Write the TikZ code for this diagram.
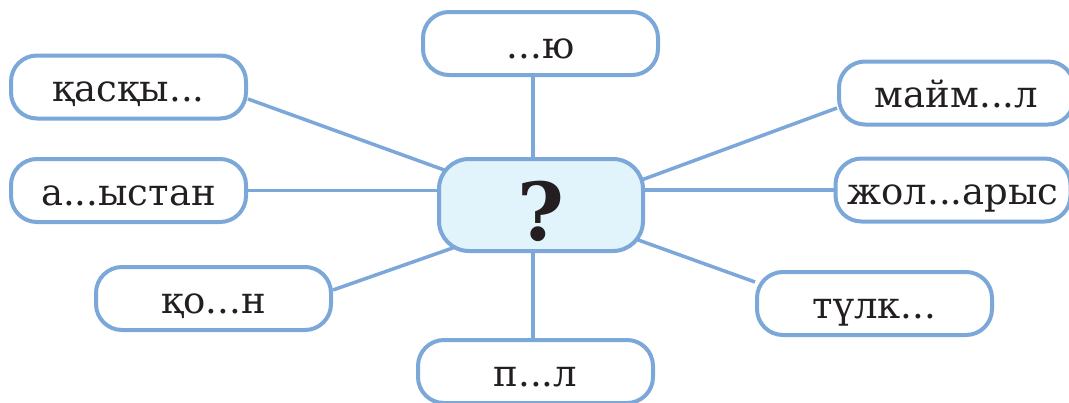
\documentclass[tikz,border=0pt]{standalone}
\usepackage{fontspec}
\setmainfont{DejaVu Serif}
\usetikzlibrary{backgrounds,calc}
\definecolor{edge}{HTML}{7BA7D9}
\definecolor{hub}{HTML}{E1F3FB}
\definecolor{ink}{HTML}{231F20}
\begin{document}
\begin{tikzpicture}[x=1pt,y=-1pt,
  word/.style={draw=edge, line width=4pt, fill=white, rounded corners=26pt,
    minimum width=235pt, minimum height=63pt, inner sep=0pt, text=ink,
    text height=29.5pt, text depth=0pt, font=\fontsize{37}{40}\selectfont},
  hubbox/.style={draw=edge, line width=4pt, fill=hub, rounded corners=30pt,
    minimum width=204pt, minimum height=92pt, inner sep=0pt, text=ink,
    text height=70pt, text depth=0pt, font=\fontsize{80}{80}\selectfont\bfseries},
  link/.style={draw=edge, line width=3.5pt}]
\useasboundingbox (0,0) rectangle (1069,402);
\node[hubbox] (c) at (541,205) {?};
\node[word] (top) at (540.5,43.5) {...ю};
\node[word] (kas) at (128.5,87) {қасқы...};
\node[word] (ast) at (128.5,190.5) {а...ыстан};
\node[word] (kon) at (213.5,298.5) {қо...н};
\node[word] (pl)  at (535.5,371.5) {п...л};
\node[word] (mai) at (956.5,93) {майм...л};
\node[word] (zhol) at (953,190) {жол...арыс};
\node[word] (tul) at (874.5,303.5) {түлк...};
\begin{scope}[on background layer]
  \draw[link] ([xshift=-7.5pt]top.south) -- ([xshift=-7.5pt]top.south |- c.north);
  \draw[link] ([xshift=-2.5pt]pl.north) -- ([xshift=-2.5pt]pl.north |- c.south);
  \draw[link] ([yshift=-12pt]kas.east) -- (c.center);
  \draw[link] (ast.east) -- (ast.east -| c.west);
  \draw[link] ([yshift=8.5pt]kon.east) -- ($(c.center)+(0,12)$);
  \draw[link] ([yshift=-15pt]mai.west) -- ($(c.center)+(0,12)$);
  \draw[link] (zhol.west) -- (zhol.west -| c.east);
  \draw[link] ([yshift=21.5pt]tul.west) -- (c.center);
\end{scope}
\end{tikzpicture}
\end{document}
